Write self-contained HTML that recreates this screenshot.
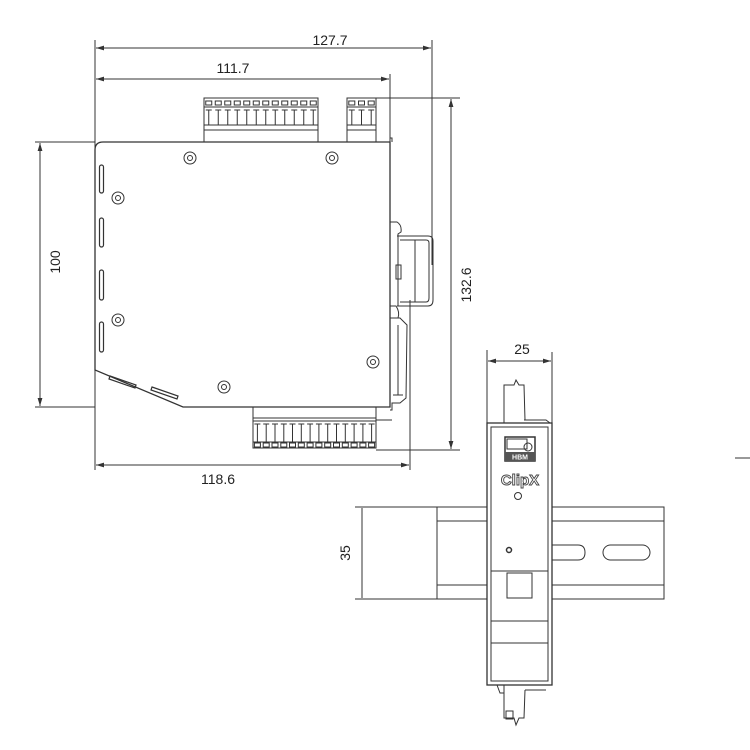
<!DOCTYPE html>
<html><head><meta charset="utf-8"><style>
html,body{margin:0;padding:0;background:#fff}
svg{display:block}
text{font-family:"Liberation Sans",sans-serif;fill:#222}
</style></head><body>
<svg width="750" height="750" viewBox="0 0 750 750" xmlns="http://www.w3.org/2000/svg">
<defs>
<marker id="a" viewBox="0 0 10 6" refX="10" refY="3" markerWidth="8" markerHeight="5" orient="auto-start-reverse"><path d="M0,0 L10,3 L0,6 z" fill="#333"/></marker>
<g id="pt" stroke="#333" fill="none"><line x1="0" y1="110" x2="0" y2="125"/><line x1="-3" y1="110" x2="3" y2="110"/><rect x="-3" y="101" width="6" height="4"/></g>
<g id="pb" stroke="#333" fill="none"><line x1="0" y1="424" x2="0" y2="442"/><line x1="-3" y1="424" x2="3" y2="424"/><rect x="-3" y="443" width="6" height="4"/></g>
</defs>
<g stroke="#333" fill="none" stroke-width="1">
<line x1="95" y1="40" x2="95" y2="470"/>
<line x1="432" y1="40" x2="432" y2="265"/>
<line x1="390" y1="74" x2="390" y2="142"/>
<line x1="410" y1="300" x2="410" y2="470"/>
<line x1="35" y1="142" x2="95" y2="142"/>
<line x1="35" y1="407" x2="95" y2="407"/>
<line x1="376" y1="98" x2="460" y2="98"/>
<line x1="376" y1="450" x2="460" y2="450"/>
<line x1="96" y1="48" x2="431" y2="48" marker-start="url(#a)" marker-end="url(#a)"/>
<line x1="96" y1="79" x2="389" y2="79" marker-start="url(#a)" marker-end="url(#a)"/>
<line x1="96" y1="465" x2="409" y2="465" marker-start="url(#a)" marker-end="url(#a)"/>
<line x1="40" y1="143" x2="40" y2="406" marker-start="url(#a)" marker-end="url(#a)"/>
<line x1="451" y1="99" x2="451" y2="449" marker-start="url(#a)" marker-end="url(#a)"/>
<path d="M103,142 L390,142 L390,407 L183,407 L95,370 L95,150 Q95,142 103,142 Z" stroke-width="1.3"/>
<path d="M390,138 L392,138 L392,142"/>
<g stroke-width="1.2">
<rect x="99.5" y="165" width="4" height="28" rx="2"/>
<rect x="99.5" y="218" width="4" height="29" rx="2"/>
<rect x="99.5" y="270" width="4" height="30" rx="2"/>
<rect x="99.5" y="322" width="4" height="30" rx="2"/>
<path d="M110,376 L136,385 L135,388 L109,379 Z"/>
<path d="M152,387 L178,396 L177,399 L151,390 Z"/>
</g>
<circle cx="190" cy="158" r="6"/><circle cx="190" cy="158" r="2.5"/>
<circle cx="332" cy="158" r="6"/><circle cx="332" cy="158" r="2.5"/>
<circle cx="118" cy="198" r="6"/><circle cx="118" cy="198" r="2.5"/>
<circle cx="118" cy="320" r="6"/><circle cx="118" cy="320" r="2.5"/>
<circle cx="373" cy="362" r="6"/><circle cx="373" cy="362" r="2.5"/>
<circle cx="224" cy="387" r="6"/><circle cx="224" cy="387" r="2.5"/>
<path d="M390,222 L397,222 Q402,225 401,232 L398,234 L398,306"/>
<path d="M397,236 L428,236 Q433,236 433,241 L433,300 Q433,306 428,306 L397,306"/>
<path d="M400,240 L426,240 Q429,240 429,243 L429,298 Q429,302 426,302 L400,302"/>
<path d="M415,240 L415,302"/>
<rect x="396" y="265" width="5" height="14"/>
<path d="M390,306 L396,306 Q400,312 398,318 L390,318"/>
<path d="M390,318 L400,318 L407,325 L406,398 L400,403 L392,403 L392,410 L390,410"/>
<path d="M398,325 L398,395 M393,395 L403,395"/>
<rect x="204" y="98" width="114" height="44"/>
<line x1="204" y1="107" x2="318" y2="107"/>
<line x1="204" y1="125" x2="318" y2="125"/>
<line x1="204" y1="130" x2="318" y2="130"/>
<rect x="347" y="98" width="29" height="44"/>
<line x1="347" y1="107" x2="376" y2="107"/>
<line x1="347" y1="125" x2="376" y2="125"/>
<line x1="347" y1="130" x2="376" y2="130"/>
<rect x="253" y="407" width="123" height="41"/>
<line x1="253" y1="418" x2="376" y2="418"/>
<line x1="253" y1="421" x2="376" y2="421"/>
<line x1="253" y1="442" x2="376" y2="442"/>
<line x1="376" y1="420" x2="392" y2="420"/>
</g>
<use href="#pt" x="208.75"/><use href="#pt" x="218.25"/><use href="#pt" x="227.75"/><use href="#pt" x="237.25"/><use href="#pt" x="246.75"/><use href="#pt" x="256.25"/><use href="#pt" x="265.75"/><use href="#pt" x="275.25"/><use href="#pt" x="284.75"/><use href="#pt" x="294.25"/><use href="#pt" x="303.75"/><use href="#pt" x="313.25"/>
<use href="#pt" x="351.8"/><use href="#pt" x="361.5"/><use href="#pt" x="371.2"/>
<use href="#pb" x="257.4"/><use href="#pb" x="266.2"/><use href="#pb" x="275"/><use href="#pb" x="283.8"/><use href="#pb" x="292.5"/><use href="#pb" x="301.3"/><use href="#pb" x="310.1"/><use href="#pb" x="318.9"/><use href="#pb" x="327.7"/><use href="#pb" x="336.5"/><use href="#pb" x="345.3"/><use href="#pb" x="354.1"/><use href="#pb" x="362.9"/><use href="#pb" x="371.6"/>
<g stroke="#333" fill="none" stroke-width="1">
<line x1="487" y1="350" x2="487" y2="423"/>
<line x1="552" y1="352" x2="552" y2="423"/>
<line x1="488" y1="361" x2="551" y2="361" marker-start="url(#a)" marker-end="url(#a)"/>
<line x1="355" y1="507" x2="487" y2="507"/>
<line x1="355" y1="599" x2="487" y2="599"/>
<line x1="362" y1="508" x2="362" y2="598"/>
<line x1="437" y1="507" x2="437" y2="599"/>
<line x1="437" y1="521" x2="487" y2="521"/>
<line x1="437" y1="585" x2="487" y2="585"/>
<path d="M552,507 L664,507 L664,599 L552,599"/>
<line x1="552" y1="521" x2="664" y2="521"/>
<line x1="552" y1="585" x2="664" y2="585"/>
<path d="M552,545 L578,545 Q585,545 585,552.5 Q585,560 578,560 L552,560"/>
<rect x="603" y="545" width="47" height="15" rx="7.5"/>
<rect x="487" y="423" width="65" height="262" stroke-width="1.3"/>
<rect x="491" y="427" width="57" height="254"/>
<path d="M504,423 L504,385 L514,385 L516,380 L519,385 L524,385 L525,420"/>
<path d="M524,420 L546,420 L550,423"/>
<path d="M504,685 L504,718 L514,718 L516,725 L519,718 L524,718 L525,690"/>
<path d="M497,685 L500,693 L504,693 M525,690 L546,690"/>
<rect x="506" y="711" width="7" height="8"/>
<rect x="505" y="437" width="30" height="24" stroke-width="1.5"/>
<rect x="507" y="439" width="20" height="10"/>
<circle cx="528" cy="447" r="4"/>
<circle cx="518" cy="496" r="3.5"/>
<circle cx="509" cy="550" r="2.5" stroke-width="1.5"/>
<rect x="491" y="571" width="57" height="50"/>
<rect x="507" y="573" width="25" height="25"/>
<line x1="491" y1="643" x2="548" y2="643"/>
<line x1="735" y1="458" x2="750" y2="458"/>
</g>
<rect x="505" y="452" width="30" height="9" fill="#555"/>
<text x="520" y="459.5" font-size="7" text-anchor="middle" style="fill:#fff;font-weight:bold">HBM</text>
<text x="520" y="485" font-size="15" text-anchor="middle" style="fill:#fff;stroke:#444;stroke-width:0.9;font-weight:bold">ClipX</text>
<text x="330" y="45" font-size="14" text-anchor="middle">127.7</text>
<text x="233" y="73" font-size="14" text-anchor="middle">111.7</text>
<text x="218" y="484" font-size="14" text-anchor="middle">118.6</text>
<text x="522" y="354" font-size="14" text-anchor="middle">25</text>
<text transform="translate(60,262) rotate(-90)" font-size="14" text-anchor="middle">100</text>
<text transform="translate(471,285) rotate(-90)" font-size="14" text-anchor="middle">132.6</text>
<text transform="translate(350,553) rotate(-90)" font-size="14" text-anchor="middle">35</text>
</svg>
</body></html>
